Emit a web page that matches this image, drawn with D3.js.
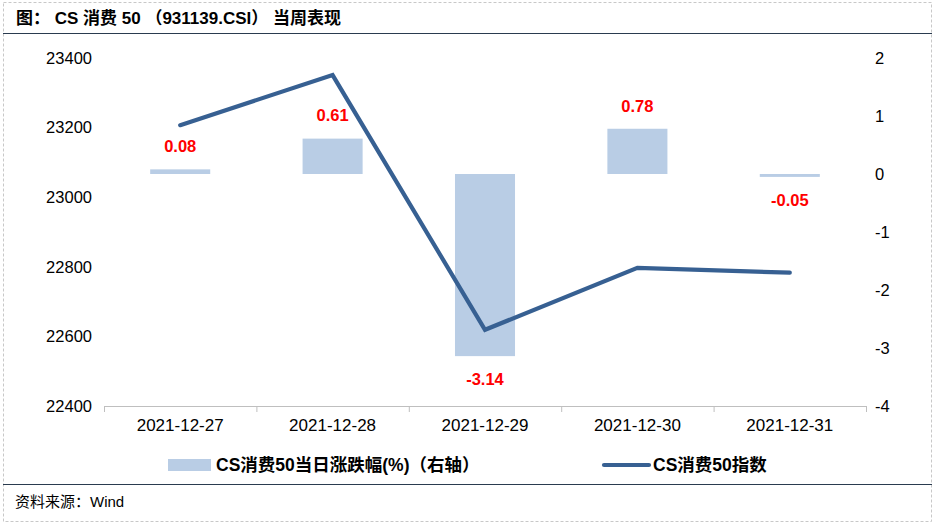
<!DOCTYPE html>
<html><head><meta charset="utf-8">
<script src="https://cdn.jsdelivr.net/npm/d3@7"></script>
<style>
html,body{margin:0;padding:0;background:#fff;}
svg{display:block;font-family:"Liberation Sans",Arial,"Noto Sans CJK SC",sans-serif;}
</style></head>
<body>
<svg id="chart" width="939" height="524"></svg>
<script>
const categories = ["2021-12-27","2021-12-28","2021-12-29","2021-12-30","2021-12-31"];
const pctChange = [0.08, 0.61, -3.14, 0.78, -0.05];
const indexValues = [23207, 23351, 22619, 22797, 22783];
const leftTicks = [22400, 22600, 22800, 23000, 23200, 23400];
const rightTicks = [-4, -3, -2, -1, 0, 1, 2];
const titleText = "图： CS 消费 50 （931139.CSI） 当周表现";
const sourceText = "资料来源：Wind";
const legendBar = "CS消费50当日涨跌幅(%)（右轴）";
const legendLine = "CS消费50指数";

(function(){
const svg = d3.select("#chart");
const cjk = '"Liberation Sans",Arial,"Noto Sans CJK SC",sans-serif';

svg.append("rect").attr("x",3.5).attr("y",2.5).attr("width",928).attr("height",519)
  .attr("fill","none").attr("stroke","#c8c8c8").attr("stroke-dasharray","3,2");

svg.append("text").attr("x",16).attr("y",24).text(titleText)
  .attr("font-size",17).attr("font-weight","bold").attr("fill","#000").style("font-family",cjk)
  .style("white-space","pre");
svg.append("line").attr("x1",3).attr("x2",932).attr("y1",33.5).attr("y2",33.5)
  .attr("stroke","#2a3b4f").attr("stroke-width",1.2);

svg.append("line").attr("x1",3).attr("x2",932).attr("y1",484.5).attr("y2",484.5)
  .attr("stroke","#2a3b4f").attr("stroke-width",1.2);
svg.append("text").attr("x",15).attr("y",507).text(sourceText)
  .attr("font-size",15).attr("fill","#000").style("font-family",cjk);

const pl = 104, pr = 866, pt = 58, pb = 406;
const x = d3.scaleBand().domain(categories).range([pl,pr]).padding(0);
const yL = d3.scaleLinear().domain([22400,23400]).range([pb,pt]);
const yR = d3.scaleLinear().domain([-4,2]).range([pb,pt]);

const bw = x.bandwidth()*0.394;
svg.append("g").selectAll("rect").data(pctChange).join("rect")
  .attr("x",(d,i)=>x(categories[i])+x.bandwidth()/2-bw/2)
  .attr("y",d=>yR(Math.max(0,d)))
  .attr("width",bw)
  .attr("height",d=>Math.abs(yR(d)-yR(0)))
  .attr("fill","#b9cde5");

const xAxis = d3.axisBottom(x).tickSize(0).tickPadding(13);
const gx = svg.append("g").attr("transform",`translate(0,${pb})`).call(xAxis);
gx.select(".domain").attr("stroke","#bfbfbf");
gx.selectAll("text").attr("font-size",17).attr("fill","#000").style("font-family",cjk);
const bounds = categories.map(c=>x(c)).concat([pr]);
gx.selectAll("line.b").data(bounds).join("line").attr("class","b")
  .attr("x1",d=>d+0.5).attr("x2",d=>d+0.5).attr("y1",0).attr("y2",6).attr("stroke","#bfbfbf");

const gl = svg.append("g").attr("transform",`translate(${pl},0)`)
  .call(d3.axisLeft(yL).tickValues(leftTicks).tickSize(0).tickPadding(12).tickFormat(d=>String(d)));
gl.select(".domain").remove();
gl.selectAll("text").attr("font-size",16.5).attr("fill","#000").style("font-family",cjk);

const gr = svg.append("g").attr("transform",`translate(${pr},0)`)
  .call(d3.axisRight(yR).tickValues(rightTicks).tickSize(0).tickPadding(9).tickFormat(d=>String(d)));
gr.select(".domain").remove();
gr.selectAll("text").attr("font-size",16.5).attr("fill","#000").style("font-family",cjk);

const line = d3.line().x((d,i)=>x(categories[i])+x.bandwidth()/2).y(d=>yL(d));
svg.append("path").datum(indexValues).attr("d",line)
  .attr("fill","none").attr("stroke","#376092").attr("stroke-width",4.2)
  .attr("stroke-linecap","round").attr("stroke-linejoin","miter");

svg.append("g").selectAll("text").data(pctChange).join("text")
  .attr("x",(d,i)=>x(categories[i])+x.bandwidth()/2)
  .attr("y",d=> d>=0 ? yR(d)-23 : yR(d)+23)
  .attr("dy","0.35em")
  .attr("text-anchor","middle")
  .attr("font-size",16.5).attr("font-weight","bold").attr("fill","#ff0000")
  .text(d=>d.toFixed(2));

const lg = svg.append("g");
lg.append("rect").attr("x",168).attr("y",459).attr("width",43).attr("height",12).attr("fill","#b9cde5");
lg.append("text").attr("x",216).attr("y",465).attr("dy","0.35em").text(legendBar)
  .attr("font-size",17.5).attr("font-weight","bold").attr("fill","#000").style("font-family",cjk);
lg.append("line").attr("x1",604).attr("x2",649).attr("y1",465).attr("y2",465)
  .attr("stroke","#376092").attr("stroke-width",4.2).attr("stroke-linecap","round");
lg.append("text").attr("x",653).attr("y",465).attr("dy","0.35em").text(legendLine)
  .attr("font-size",17.5).attr("font-weight","bold").attr("fill","#000").style("font-family",cjk);
})();
</script>
</body></html>
